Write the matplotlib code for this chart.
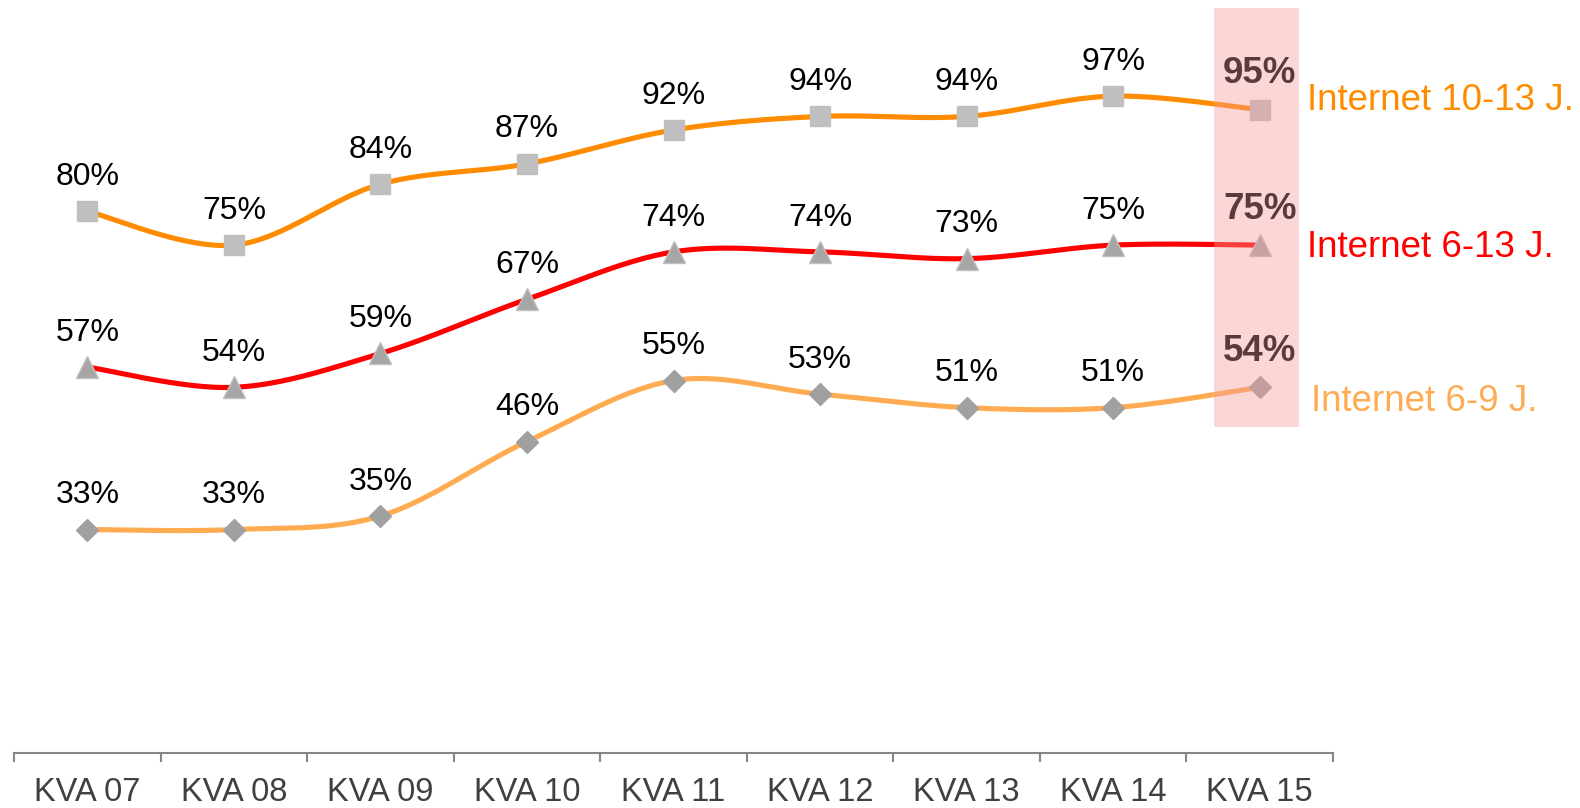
import matplotlib.pyplot as plt
import numpy as np
from matplotlib.patches import Rectangle

plt.rcParams["font.family"] = ["Liberation Sans", "DejaVu Sans"]

categories = ["KVA 07", "KVA 08", "KVA 09", "KVA 10", "KVA 11",
              "KVA 12", "KVA 13", "KVA 14", "KVA 15"]
internet_10_13 = [80, 75, 84, 87, 92, 94, 94, 97, 95]
internet_6_13 = [57, 54, 59, 67, 74, 74, 73, 75, 75]
internet_6_9 = [33, 33, 35, 46, 55, 53, 51, 51, 54]
series_names = ["Internet 10-13 J.", "Internet 6-13 J.", "Internet 6-9 J."]


def smooth(x, y, n=40):
    """Catmull-Rom style smoothing like the office 'smoothed line'."""
    x = np.asarray(x, float)
    y = np.asarray(y, float)
    pts = np.column_stack([x, y])
    out = []
    t = np.linspace(0, 1, n)[:, None]
    for i in range(len(pts) - 1):
        p0 = pts[max(i - 1, 0)]
        p1 = pts[i]
        p2 = pts[i + 1]
        p3 = pts[min(i + 2, len(pts) - 1)]
        c1 = p1 + (p2 - p0) / 6
        c2 = p2 - (p3 - p1) / 6
        seg = ((1 - t) ** 3) * p1 + 3 * ((1 - t) ** 2) * t * c1 \
            + 3 * (1 - t) * t ** 2 * c2 + t ** 3 * p2
        out.append(seg if i == 0 else seg[1:])
    seg = np.vstack(out)
    return seg[:, 0], seg[:, 1]


fig = plt.figure(figsize=(15.8, 8.08), dpi=100)
ax = fig.add_axes([0.0089, 0.068, 0.8348, 0.922])

xs = np.arange(len(categories))
styles = [
    (internet_10_13, "#ff8c00", "s", 14.8, "#bfbfbf", "#bfbfbf", (34, 6.5)),
    (internet_6_13, "#ff0000", "^", 15.5, "#a6a6a6", "#bfbfbf", (34, -1.5)),
    (internet_6_9, "#ffab52", "D", 10.8, "#a0a0a0", "#a0a0a0", (37, -10)),
]

for (vals, color, marker, ms, fc, ec, off), name in zip(styles, series_names):
    sx, sy = smooth(xs, vals)
    ax.plot(sx, sy, color=color, lw=3.7, solid_capstyle="round", zorder=2)
    ax.plot(xs, vals, ls="none", marker=marker, ms=ms, mfc=fc, mec=ec,
            mew=1, zorder=3)
    for i, v in enumerate(vals):
        last = i == len(vals) - 1
        ax.annotate(f"{v}%", (xs[i], v), xytext=(0, 19),
                    textcoords="offset points", ha="center", va="baseline",
                    fontsize=26.5 if last else 23,
                    fontweight="bold" if last else "normal",
                    color="#5a3a3a" if last else "black", zorder=5)
    ax.annotate(name, (xs[-1], vals[-1]), xytext=off,
                textcoords="offset points", ha="left", va="center",
                fontsize=26.5, color=color, annotation_clip=False)

# highlighted latest wave
ax.add_patch(Rectangle((7.69, 48.2), 0.58, 61.8, facecolor="#f49a9a",
                       alpha=0.4, edgecolor="none", zorder=4, clip_on=False))

ax.set_xlim(-0.5, len(categories) - 0.5)
ax.set_ylim(0, 110)
ax.set_yticks([])
for s in ["top", "right", "left"]:
    ax.spines[s].set_visible(False)
ax.spines["bottom"].set_color("#868686")
ax.spines["bottom"].set_linewidth(1.5)
ax.set_xticks(xs)
ax.set_xticklabels(categories, fontsize=23.5, color="#404040")
ax.set_xticks(np.arange(-0.5, len(categories)), minor=True)
ax.tick_params(axis="x", which="major", length=0, pad=17)
ax.tick_params(axis="x", which="minor", length=6.5, width=1.5,
               color="#868686", direction="out")

fig.savefig("out.png", dpi=100)
